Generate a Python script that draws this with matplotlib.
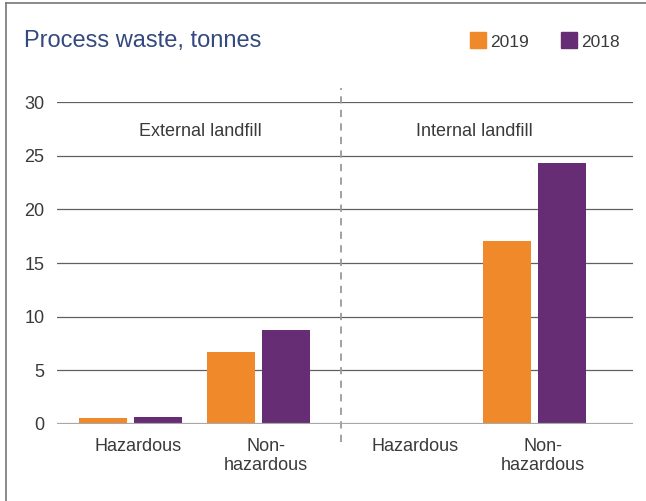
import matplotlib
matplotlib.use("Agg")
import matplotlib.pyplot as plt
from matplotlib.patches import Rectangle
from matplotlib.lines import Line2D

plt.rcParams['font.family'] = ['Liberation Sans', 'DejaVu Sans']

# tonnes per category, two years
categories = ["Hazardous", "Non-\nhazardous", "Hazardous", "Non-\nhazardous"]
values_2019 = [0.55, 6.7, 0.0, 17.1]
values_2018 = [0.65, 8.7, 0.0, 24.3]
sections = ["External landfill", "Internal landfill"]
years = ["2019", "2018"]

orange = "#f0892a"
purple = "#662d74"
text_col = "#3a3a3a"

W, H = 646, 501
fig = plt.figure(figsize=(W / 100, H / 100), dpi=100)
ax = fig.add_axes([57 / W, 1 - 423.7 / H, (633 - 57) / W, (423.7 - 102.3) / H])

pos = [0.0, 1.0, 2.16, 3.16]
bw = 0.375
off = 0.215
ax.bar([p - off for p in pos], values_2019, width=bw, color=orange, zorder=3)
ax.bar([p + off for p in pos], values_2018, width=bw, color=purple, zorder=3)

ax.set_xlim(-0.574, 3.926)
ax.set_ylim(0, 30)
ax.set_yticks(range(0, 31, 5))
for y in range(5, 31, 5):
    ax.axhline(y, color="#606060", lw=0.9, zorder=1)
ax.axhline(0, color="#a8a8a8", lw=1.6, zorder=4)

for s in ax.spines.values():
    s.set_visible(False)
ax.tick_params(axis="y", length=0, pad=9, labelsize=13, labelcolor=text_col)
ax.tick_params(axis="x", length=0, pad=10, labelsize=13, labelcolor=text_col)
ax.set_xticks([p + 0.06 for p in pos])
ax.set_xticklabels(categories, linespacing=1.15, va="top")

# divider between the two landfill sections
ax.plot([1.648, 1.648], [-1.75, 31.3], color="#9a9a9a", lw=1.3,
        ls=(0, (4, 3.5)), clip_on=False, zorder=2)

ax.text(0.547, 27.25, sections[0], ha="center", va="center",
        fontsize=13, color=text_col)
ax.text(2.69, 27.25, sections[1], ha="center", va="center",
        fontsize=13, color=text_col)

fig.text(24 / W, 1 - 47 / H, "Process waste, tonnes", fontsize=17,
         color="#34497f", va="baseline", ha="left")

# legend
for x0, col, lab in [(470, orange, years[0]), (561, purple, years[1])]:
    fig.patches.append(Rectangle((x0 / W, 1 - 48 / H), 16 / W, 16 / H,
                                 transform=fig.transFigure, color=col))
    fig.text((x0 + 20) / W, 1 - 47 / H, lab, fontsize=12.5, color=text_col,
             va="baseline", ha="left")

# frame
fig.lines.append(Line2D([6 / W, 6 / W], [0, 1 - 3 / H], transform=fig.transFigure,
                        color="#777777", lw=1.2))
fig.lines.append(Line2D([6 / W, 1], [1 - 3 / H, 1 - 3 / H], transform=fig.transFigure,
                        color="#777777", lw=1.2))

fig.savefig("out.png", dpi=100)
